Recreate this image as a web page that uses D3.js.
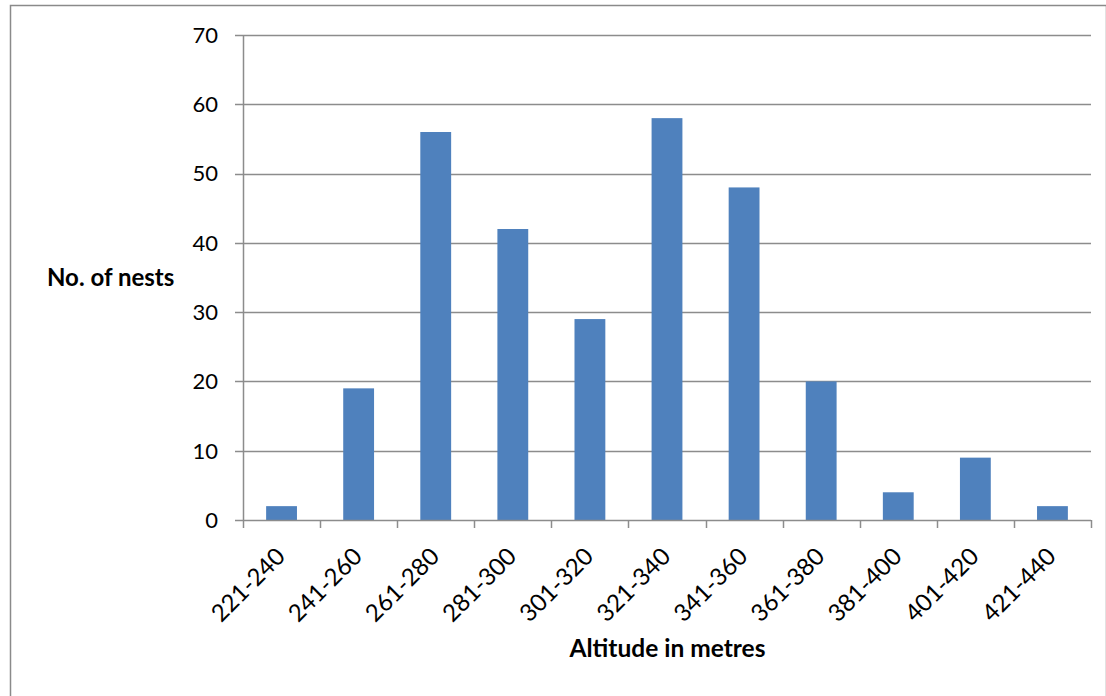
<!DOCTYPE html>
<html>
<head>
<meta charset="utf-8">
<script src="https://cdn.jsdelivr.net/npm/d3@7"></script>
<style>
  html, body { margin: 0; padding: 0; background: #fff; }
  svg { display: block; }
  text { font-family: Lato, "Open Sans", sans-serif; fill: #000; }
</style>
</head>
<body>
<svg id="chart" width="1106" height="696"></svg>
<script>
// Nest counts per altitude band
const categories = ["221-240","241-260","261-280","281-300","301-320","321-340","341-360","361-380","381-400","401-420","421-440"];
const nests = [2, 19, 56, 42, 29, 58, 48, 20, 4, 9, 2];
const yTicks = [0, 10, 20, 30, 40, 50, 60, 70];

const svg = d3.select("#chart");
const W = 1106, H = 696;
const plot = { left: 243, right: 1091, top: 35, bottom: 520 };

// outer chart frame
svg.append("rect")
  .attr("x", 10.5).attr("y", 5.5)
  .attr("width", W - 10).attr("height", H + 10)
  .attr("fill", "#fff").attr("stroke", "#8a8a8a").attr("stroke-width", 1.5);

const x = d3.scaleBand().domain(categories).range([plot.left, plot.right]).padding(0);
const y = d3.scaleLinear().domain([0, 70]).range([plot.bottom, plot.top]);

// horizontal gridlines with left tick marks
svg.append("g").selectAll("line").data(yTicks.filter(d => d > 0)).join("line")
  .attr("x1", plot.left - 8).attr("x2", plot.right)
  .attr("y1", d => Math.round(y(d)) + 0.5).attr("y2", d => Math.round(y(d)) + 0.5)
  .attr("stroke", "#8c8c8c").attr("stroke-width", 1.5);

// bars
const barW = x.bandwidth() * 0.4;
svg.append("g").selectAll("rect").data(categories).join("rect")
  .attr("x", d => x(d) + (x.bandwidth() - barW) / 2)
  .attr("width", barW)
  .attr("y", (d, i) => y(nests[i]))
  .attr("height", (d, i) => y(0) - y(nests[i]))
  .attr("fill", "#4F81BD");

// y axis line
svg.append("line")
  .attr("x1", plot.left + 0.5).attr("x2", plot.left + 0.5)
  .attr("y1", plot.top).attr("y2", plot.bottom)
  .attr("stroke", "#8c8c8c").attr("stroke-width", 1.5);

// x axis line + tick marks at band edges
svg.append("line")
  .attr("x1", plot.left - 8).attr("x2", plot.right)
  .attr("y1", plot.bottom + 0.5).attr("y2", plot.bottom + 0.5)
  .attr("stroke", "#8c8c8c").attr("stroke-width", 1.5);
const edges = categories.map(c => x(c)).concat([plot.right]);
svg.append("g").selectAll("line").data(edges).join("line")
  .attr("x1", d => Math.round(d) + 0.5).attr("x2", d => Math.round(d) + 0.5)
  .attr("y1", plot.bottom).attr("y2", plot.bottom + 8)
  .attr("stroke", "#8c8c8c").attr("stroke-width", 1.5);

// y tick labels
svg.append("g").selectAll("text").data(yTicks).join("text")
  .attr("x", 218).attr("y", d => y(d))
  .attr("dy", "0.36em")
  .attr("text-anchor", "end")
  .attr("font-size", 22)
  .text(d => d);

// x tick labels, rotated
svg.append("g").selectAll("text").data(categories).join("text")
  .attr("transform", d => `translate(${x(d) + x.bandwidth() / 2 + 5},${plot.bottom + 38}) rotate(-45)`)
  .attr("text-anchor", "end")
  .attr("font-size", 24)
  .text(d => d);

// axis titles
svg.append("text")
  .attr("x", 47).attr("y", 286)
  .attr("font-size", 24).attr("font-weight", "bold")
  .text("No. of nests");

svg.append("text")
  .attr("x", 667.5).attr("y", 657)
  .attr("text-anchor", "middle")
  .attr("font-size", 24.5).attr("font-weight", "bold")
  .text("Altitude in metres");
</script>
</body>
</html>
